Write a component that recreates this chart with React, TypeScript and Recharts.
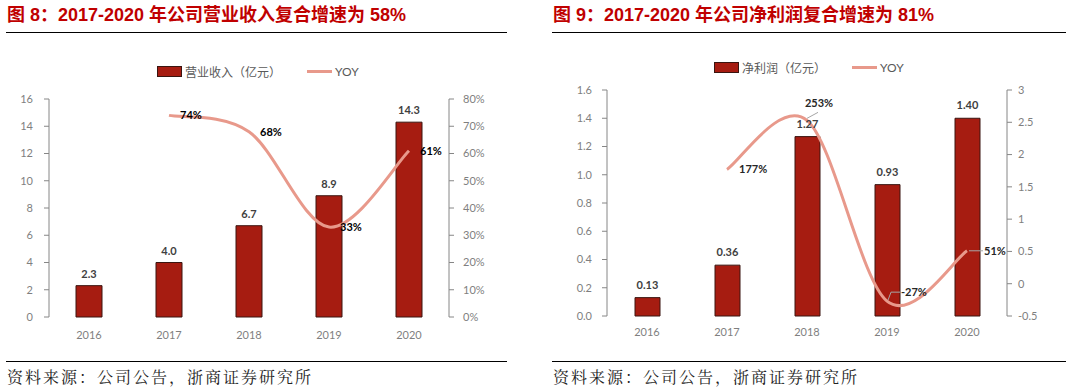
import { ComposedChart, Bar, Line, XAxis, YAxis, LabelList, Legend } from "recharts"

const years = ["2016", "2017", "2018", "2019", "2020"]
const revenue = [2.3, 4.0, 6.7, 8.9, 14.3]
const revenueYoy = [null, 0.74, 0.68, 0.33, 0.61]
const profit = [0.13, 0.36, 1.27, 0.93, 1.4]
const profitYoy = [null, 1.77, 2.53, -0.27, 0.51]

const revenueTicks = [0, 2, 4, 6, 8, 10, 12, 14, 16]
const revenueYoyTicks = [0, 0.1, 0.2, 0.3, 0.4, 0.5, 0.6, 0.7, 0.8]
const profitTicks = [0, 0.2, 0.4, 0.6, 0.8, 1.0, 1.2, 1.4, 1.6]
const profitYoyTicks = [-0.5, 0, 0.5, 1, 1.5, 2, 2.5, 3]
// category boundaries, for the tick marks between years
const edgeTicks = [-0.5, 0.5, 1.5, 2.5, 3.5, 4.5]

const revenueData = years.map((year, i) => ({ year, value: revenue[i], yoy: revenueYoy[i] }))
const profitData = years.map((year, i) => ({ year, value: profit[i], yoy: profitYoy[i] }))

const RED = "#C00000"
const BAR = "#A61C11"
const LINE = "#E8998B"
const AXIS = "#868686"
const TICK = "#7f7f7f"
const FONT = 'Lato, "Noto Sans CJK SC", sans-serif'

// Excel style smoothed line (cardinal bezier through the points)
const excelSmooth = (context: any) => {
  let pts: number[][] = []
  return {
    areaStart() {},
    areaEnd() {},
    lineStart() {
      pts = []
    },
    point(x: number, y: number) {
      pts.push([+x, +y])
    },
    lineEnd() {
      if (!pts.length) return
      context.moveTo(pts[0][0], pts[0][1])
      for (let i = 0; i < pts.length - 1; i++) {
        const p0 = pts[i - 1] || pts[i]
        const p1 = pts[i]
        const p2 = pts[i + 1]
        const p3 = pts[i + 2] || p2
        context.bezierCurveTo(
          p1[0] + (p2[0] - p0[0]) / 6,
          p1[1] + (p2[1] - p0[1]) / 6,
          p2[0] - (p3[0] - p1[0]) / 6,
          p2[1] - (p3[1] - p1[1]) / 6,
          p2[0],
          p2[1]
        )
      }
    },
  }
}

const pct = (v: number) => `${Math.round(v * 100)}%`

function LegendBox({ name }: { name: string }) {
  return (
    <div style={{ display: "flex", alignItems: "center", fontSize: 12, color: "#595959", fontFamily: FONT, whiteSpace: "nowrap" }}>
      <span style={{ display: "inline-block", width: 23, height: 9, background: BAR, border: "1px solid #3a1510", marginRight: 3 }} />
      <span>{name}</span>
      <span style={{ display: "inline-block", width: 25, height: 3, background: LINE, marginLeft: 26, marginRight: 3 }} />
      <span>YOY</span>
    </div>
  )
}

// label placement for the profit YOY points (styling only)
const profitYoyLabelStyle = [
  null,
  { dx: 12, dy: 0, anchor: "start", leader: null },
  { dx: 12, dy: -17, anchor: "middle", leader: [[0, -2], [11, -8]] },
  { dx: 14, dy: -9, anchor: "start", leader: [[1, -1], [4, -9], [13, -9]] },
  { dx: 17, dy: 0, anchor: "start", leader: [[2, 0], [16, 0]] },
]

function ProfitYoyLabel(props: any) {
  const { x, y, value, index } = props
  const s = profitYoyLabelStyle[index]
  if (value == null || !s) return null
  return (
    <g>
      {s.leader && (
        <polyline
          points={s.leader.map((p: number[]) => `${x + p[0]},${y + p[1]}`).join(" ")}
          fill="none"
          stroke="#a6a6a6"
          strokeWidth={1}
        />
      )}
      <text x={x + s.dx} y={y + s.dy} dy="0.35em" textAnchor={s.anchor} fontSize={11} fontWeight="bold" fill="#262626">
        {pct(value)}
      </text>
    </g>
  )
}

function Header({ left, width, text }: { left: number; width: number; text: string }) {
  return (
    <>
      <div
        style={{
          position: "absolute",
          left,
          top: 4,
          fontSize: 18,
          lineHeight: "22px",
          fontWeight: "bold",
          color: RED,
          fontFamily: '"Liberation Sans", "Noto Sans CJK SC", sans-serif',
          whiteSpace: "nowrap",
        }}
      >
        {text}
      </div>
      <div style={{ position: "absolute", left: left - 1, top: 32, width, height: 1, background: "#000" }} />
    </>
  )
}

function Footer({ left, width }: { left: number; width: number }) {
  return (
    <>
      <div style={{ position: "absolute", left: left - 1, top: 361, width, height: 1, background: "#000" }} />
      <div
        style={{
          position: "absolute",
          left,
          top: 366,
          fontSize: 16,
          lineHeight: "22px",
          letterSpacing: 2,
          color: "#222",
          fontFamily: '"Noto Serif CJK SC", serif',
          whiteSpace: "nowrap",
        }}
      >
        资料来源：公司公告，浙商证券研究所
      </div>
    </>
  )
}

export default function App() {
  return (
    <div style={{ position: "absolute", left: 0, top: 0, width: 1073, height: 391, background: "#fff", fontFamily: FONT }}>
      <Header left={7} width={501} text="图 8：2017-2020 年公司营业收入复合增速为 58%" />
      <Header left={553} width={514} text="图 9：2017-2020 年公司净利润复合增速为 81%" />

      <div style={{ position: "absolute", left: 0, top: 0 }}>
        <ComposedChart width={540} height={391} data={revenueData} margin={{ top: 99, right: 41, bottom: 44, left: 0 }}>
          <Legend
            layout="vertical"
            align="center"
            verticalAlign="middle"
            wrapperStyle={{ left: 157, top: 63, width: "auto" }}
            content={() => <LegendBox name="营业收入（亿元）" />}
          />
          <XAxis
            xAxisId="edge"
            type="number"
            domain={[-0.5, 4.5]}
            ticks={edgeTicks}
            allowDataOverflow
            height={0}
            tick={false}
            tickSize={5}
            stroke={AXIS}
          />
          <XAxis
            xAxisId="cat"
            dataKey="year"
            height={30}
            axisLine={false}
            tickLine={false}
            tickMargin={8}
            tick={{ fontSize: 11, fill: TICK }}
          />
          <YAxis
            yAxisId="left"
            width={49}
            domain={[0, 16]}
            ticks={revenueTicks}
            tickSize={5}
            tickMargin={11}
            stroke={AXIS}
            tick={{ fontSize: 11, fill: TICK }}
          />
          <YAxis
            yAxisId="right"
            orientation="right"
            width={50}
            domain={[0, 0.8]}
            ticks={revenueYoyTicks}
            tickFormatter={pct}
            tickSize={5}
            tickMargin={9}
            stroke={AXIS}
            tick={{ fontSize: 11, fill: TICK }}
          />
          <Bar xAxisId="cat" yAxisId="left" dataKey="value" fill={BAR} stroke="#3a1510" strokeWidth={1} barSize={26} isAnimationActive={false}>
            <LabelList dataKey="value" position="top" offset={8} formatter={(v: any) => Number(v).toFixed(1)} fontSize={11} fontWeight="bold" fill="#404040" />
          </Bar>
          <Line xAxisId="cat" yAxisId="right" dataKey="yoy" type={excelSmooth as any} stroke={LINE} strokeWidth={3} dot={false} isAnimationActive={false}>
            <LabelList dataKey="yoy" position="right" offset={11} formatter={(v: any) => (v == null ? "" : pct(v))} fontSize={11} fontWeight="bold" fill="#000" />
          </Line>
        </ComposedChart>
      </div>

      <div style={{ position: "absolute", left: 540, top: 0 }}>
        <ComposedChart width={533} height={391} data={profitData} margin={{ top: 90, right: 16, bottom: 45, left: 7 }}>
          <Legend
            layout="vertical"
            align="center"
            verticalAlign="middle"
            wrapperStyle={{ left: 174, top: 59, width: "auto" }}
            content={() => <LegendBox name="净利润（亿元）" />}
          />
          <XAxis
            xAxisId="edge"
            type="number"
            domain={[-0.5, 4.5]}
            ticks={edgeTicks}
            allowDataOverflow
            height={0}
            tick={false}
            tickSize={5}
            stroke={AXIS}
          />
          <XAxis
            xAxisId="cat"
            dataKey="year"
            height={30}
            axisLine={false}
            tickLine={false}
            tickMargin={6}
            tick={{ fontSize: 11, fill: TICK }}
          />
          <YAxis
            yAxisId="left"
            width={60}
            domain={[0, 1.6]}
            ticks={profitTicks}
            tickFormatter={(v: number) => v.toFixed(1)}
            tickSize={5}
            tickMargin={10}
            stroke={AXIS}
            tick={{ fontSize: 11, fill: TICK }}
          />
          <YAxis
            yAxisId="right"
            orientation="right"
            width={50}
            domain={[-0.5, 3]}
            ticks={profitYoyTicks}
            tickSize={5}
            tickMargin={6}
            stroke={AXIS}
            tick={{ fontSize: 11, fill: TICK }}
          />
          <Bar xAxisId="cat" yAxisId="left" dataKey="value" fill={BAR} stroke="#3a1510" strokeWidth={1} barSize={25} isAnimationActive={false}>
            <LabelList dataKey="value" position="top" offset={9} formatter={(v: any) => Number(v).toFixed(2)} fontSize={11} fontWeight="bold" fill="#404040" />
          </Bar>
          <Line xAxisId="cat" yAxisId="right" dataKey="yoy" type={excelSmooth as any} stroke={LINE} strokeWidth={3} dot={false} isAnimationActive={false}>
            <LabelList dataKey="yoy" content={<ProfitYoyLabel />} />
          </Line>
        </ComposedChart>
      </div>

      <Footer left={7} width={501} />
      <Footer left={553} width={514} />
    </div>
  )
}
